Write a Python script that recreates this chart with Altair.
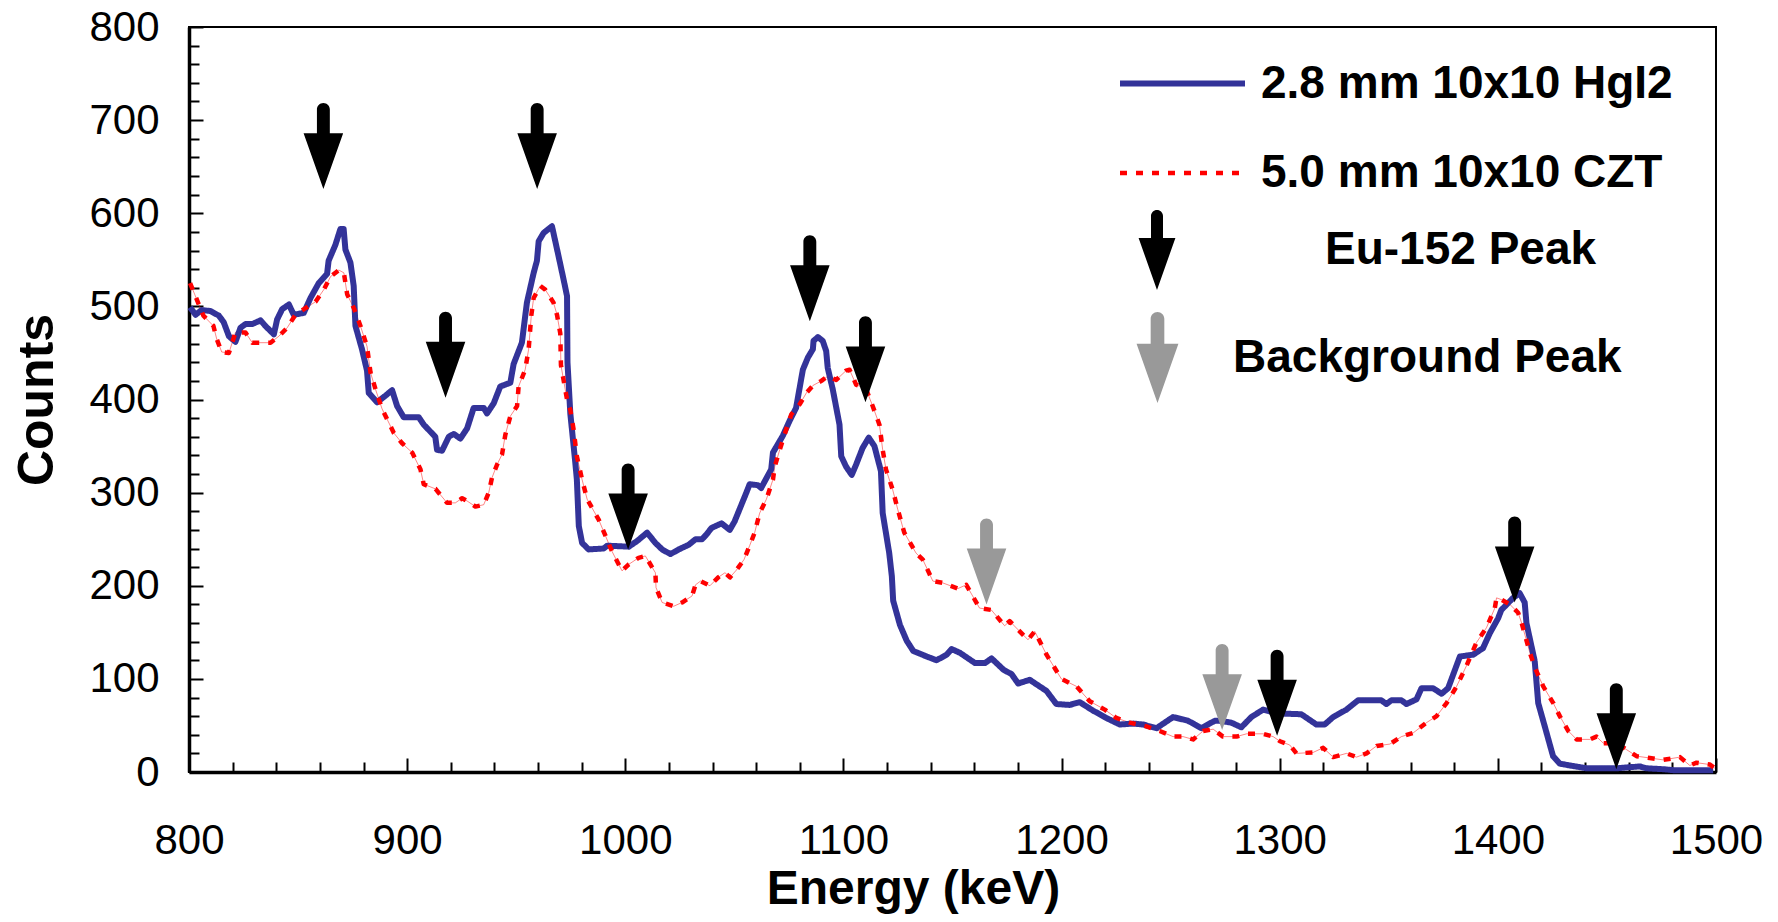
import altair as alt
import pandas as pd

# ---------------- data ----------------
SERIES = ["2.8 mm 10x10 HgI2", "5.0 mm 10x10 CZT"]
PEAKS = ["Eu-152 Peak", "Background Peak"]

HGI2_E = [800.5, 803, 805.8, 809.9, 813.7, 815.9, 818.3, 821.3, 823.6, 825.9, 829, 832.8, 835, 838.9,
          840.4, 842.7, 845.8, 848, 852.6, 855.7, 859.5, 863.3, 864, 867.1, 869.4, 870.9, 871.7, 874,
          875.5, 876.3, 879.3, 881.6, 882.4, 886.2, 890, 893.1, 895.4, 898.4, 905.3, 907.6, 912.9,
          913.7, 916, 919.1, 921.4, 924.4, 927.5, 930.5, 935.1, 936.6, 939.7, 942.7, 947.3, 948.8,
          952.6, 954.9, 958, 959.5, 960.3, 962.6, 966.4, 969.4, 971.7, 973.3, 973.5, 974.8, 977.1,
          977.8, 978.7, 980.2, 983.2, 990.1, 991.7, 1001.6, 1005.4, 1010, 1013.8, 1016.9, 1020.7,
          1024.5, 1029.1, 1032.2, 1035.2, 1037.2, 1039.5, 1044.1, 1047.9, 1050.1, 1055.5, 1057,
          1060.8, 1062.3, 1066.9, 1067.7, 1072.2, 1075.3, 1078.3, 1081.4, 1083.7, 1086, 1086.3,
          1088.3, 1090.5, 1092.1, 1092.8, 1095.1, 1098.2, 1099, 1101.2, 1103.8, 1105.8, 1108.8,
          1111.6, 1114.2, 1117.2, 1118, 1121, 1122.2, 1122.8, 1125.9, 1129, 1132, 1138.2, 1142.7,
          1147.3, 1149.6, 1153.4, 1160.3, 1164.9, 1167.9, 1173.3, 1177.1, 1180.1, 1185.4, 1193.1,
          1197.6, 1203.7, 1208.3, 1214.4, 1220.5, 1226.7, 1232.8, 1237.4, 1243.5, 1251.1, 1258,
          1264.1, 1270.2, 1272.5, 1277.8, 1282.4, 1287, 1292.4, 1298.5, 1309.9, 1316.8, 1320.6,
          1324.5, 1330.6, 1335.9, 1346.6, 1348.9, 1351.2, 1355.8, 1358.1, 1362.7, 1365, 1370.3,
          1374.2, 1377.2, 1382.6, 1388.7, 1393.2, 1396.3, 1400.1, 1401.6, 1407, 1410, 1412.3,
          1413.1, 1416.9, 1418.5, 1421.5, 1425.3, 1428.4, 1433, 1440.6, 1454.4, 1465.1, 1468.1,
          1475.8, 1480.4, 1498.7]
HGI2_C = [499, 491, 496, 495, 490, 483, 468, 462, 477, 481, 481, 485, 479, 470,
          486, 497, 502, 491, 493, 509, 525, 535, 549, 566, 583, 583, 561, 547,
          522, 479, 454, 431, 407, 397, 404, 410, 393, 381, 381, 373, 360,
          346, 345, 360, 363, 358, 369, 391, 391, 385, 396, 414, 418, 438,
          461, 504, 536, 549, 570, 579, 586, 554, 529, 511, 440, 385, 332,
          314, 264, 246, 239, 240, 243, 242, 248, 257, 246, 239, 234,
          239, 244, 250, 250, 255, 262, 267, 260, 269, 300, 309,
          308, 305, 325, 343, 361, 377, 391, 432, 445, 454, 463,
          467, 463, 452, 434, 411, 373, 339, 328, 319, 330, 348,
          359, 350, 323, 278, 235, 210, 184, 158, 141, 130, 124, 120,
          126, 132, 128, 117, 117, 122, 110, 105, 95, 99, 87,
          73, 72, 75, 66, 58, 51, 52, 51, 47, 59, 55,
          47, 55, 55, 53, 48, 59, 67, 63, 62, 51, 51,
          59, 67, 77, 77, 73, 77, 77, 73, 78, 90, 90,
          84, 90, 124, 126, 133, 149, 165, 174, 187, 192, 182,
          160, 119, 74, 49, 17, 9, 7, 4, 4, 6, 4,
          3, 2, 2]

CZT_E = [800.5, 806.6, 811.2, 812.7, 815, 818.3, 821.3, 825.9, 829, 837.4, 841.2, 845, 848.8, 853.4,
         858, 861.8, 864.9, 868.7, 871, 872.5, 875.6, 878.6, 881.6, 883.2, 885.5, 888.5, 893.9,
         897.7, 902.3, 906.1, 907.6, 913, 918.3, 922.1, 925.2, 927.5, 931.3, 935.1, 937.4, 938.9,
         941.2, 943.5, 945, 947.3, 950.4, 951.1, 954.1, 955.7, 956.9, 958, 961, 963.3, 967.1,
         968.7, 970.2, 970.5, 971.7, 973.3, 974.8, 976.3, 977.8, 980.2, 982.5, 987.8, 993.9,
         998.5, 1001.6, 1006.1, 1009.2, 1013.8, 1014.1, 1016.9, 1022.2, 1026, 1030.6, 1032.2,
         1034.5, 1038.8, 1042.6, 1045.7, 1048, 1051, 1054.4, 1057, 1059.3, 1061.6, 1064.7,
         1067.7, 1068.5, 1070.8, 1073.8, 1076.1, 1080, 1083, 1086, 1089.9, 1092.8, 1096.7,
         1101.2, 1102.8, 1105.8, 1110.4, 1113.4, 1116.5, 1118, 1119.5, 1122.6, 1124.9, 1127.9,
         1133.3, 1136.4, 1141, 1145.6, 1152.5, 1156.3, 1162.4, 1167.8, 1173.9, 1176.2, 1184.6,
         1187.7, 1193.1, 1199.9, 1206.8, 1212.9, 1219.8, 1225.1, 1231.3, 1238.9, 1245, 1251.1,
         1255.7, 1260.3, 1264.9, 1269.5, 1274, 1280.2, 1284.8, 1292.4, 1297, 1300.1, 1304.6,
         1307.7, 1315.3, 1319.9, 1324.5, 1330.6, 1335.2, 1339.8, 1344.4, 1350.5, 1355.8, 1361.2,
         1367.3, 1371.9, 1376.5, 1381.1, 1385.6, 1390.2, 1394.8, 1398.6, 1399.4, 1401.7, 1405.5,
         1409.3, 1410.9, 1414.7, 1417, 1420.8, 1425.4, 1428.4, 1432.3, 1436.1, 1442.2, 1445.2,
         1448.3, 1454.4, 1459, 1463.6, 1469.7, 1475.8, 1483.5, 1488, 1491.1, 1497.2, 1499.5]
CZT_C = [525, 490, 479, 465, 451, 450, 472, 472, 461, 461, 468, 477, 491, 498,
         505, 518, 532, 539, 536, 513, 498, 479, 457, 429, 411, 390, 364,
         353, 343, 325, 309, 304, 289, 289, 294, 291, 285, 287, 300, 316,
         330, 341, 362, 382, 393, 414, 432, 454, 490, 509, 522, 518, 504,
         491, 471, 437, 421, 400, 389, 368, 339, 314, 293, 271, 237,
         216, 223, 230, 232, 214, 198, 182, 178, 182, 189, 201,
         205, 200, 209, 214, 209, 217, 228, 243, 257, 278, 293,
         314, 328, 346, 368, 384, 395, 407, 415, 420, 425, 421,
         431, 432, 416, 411, 393, 373, 346, 325, 303, 282, 257,
         235, 228, 205, 203, 197, 201, 176, 174, 157, 162, 142,
         151, 126, 100, 92, 76, 67, 58, 53, 49, 44, 38,
         38, 35, 44, 46, 38, 38, 41, 41, 38, 33, 29,
         20, 21, 26, 16, 20, 16, 20, 28, 30, 38, 42,
         53, 60, 74, 92, 114, 139, 155, 176, 187, 185, 180,
         171, 160, 128, 112, 92, 74, 60, 44, 35, 35, 38,
         31, 31, 24, 17, 15, 13, 16, 7, 10, 8, 4]

EU_E = [861.6, 917.6, 959.6, 1001.3, 1084.6, 1110.1, 1298.8, 1407.7, 1454.3]
EU_C = [626, 402, 626, 239, 484, 397, 39, 182, 3]
BG_E = [1165.6, 1273.6]
BG_C = [180, 45]

X_LABELS = [800, 900, 1000, 1100, 1200, 1300, 1400, 1500]
Y_LABELS = [0, 100, 200, 300, 400, 500, 600, 700, 800]
X_TICKS = list(range(800, 1501, 20))
Y_TICKS = list(range(0, 801, 20))

# ---------------- tables ----------------
rows = []
for i, (e, c) in enumerate(zip(HGI2_E, HGI2_C)):
    rows.append({"energy": e, "counts": c, "series": SERIES[0], "idx": i})
for i, (e, c) in enumerate(zip(CZT_E, CZT_C)):
    rows.append({"energy": e, "counts": c, "series": SERIES[1], "idx": i})
lines_df = pd.DataFrame(rows)
czt_df = lines_df[lines_df["series"] == SERIES[1]]

eu_df = pd.DataFrame({"energy": EU_E, "counts": EU_C, "kind": PEAKS[0]})
bg_df = pd.DataFrame({"energy": BG_E, "counts": BG_C, "kind": PEAKS[1]})

# ---------------- styling ----------------
FONT = "Liberation Sans"
W, H = 1527, 745
BLUE = "#333399"
RED = "#ff0000"
GRAY = "#999999"
ARROW = ("M-0.15,-0.85 A0.15,0.15 0 0 1 0.15,-0.85 L0.15,-0.3 L0.46,-0.3 "
         "L0,1 L-0.46,-0.3 L-0.15,-0.3 Z")

x_scale = alt.Scale(domain=[800, 1500], nice=False, zero=False)
y_scale = alt.Scale(domain=[0, 800], nice=False, zero=False)

x_label_axis = alt.Axis(
    values=X_LABELS, ticks=False, grid=False, domain=True, domainColor="black",
    domainWidth=3.5, labelFont=FONT, labelFontSize=42, labelColor="black",
    labelBaseline="alphabetic", labelPadding=81, labelFlush=False, format="d",
    title="Energy (keV)", titleFont=FONT, titleFontSize=48, titleFontWeight="bold",
    titleColor="black", titleBaseline="alphabetic", titleX=724, titleY=131,
)
y_label_axis = alt.Axis(
    values=Y_LABELS, ticks=False, grid=False, domain=True, domainColor="black",
    domainWidth=3.5, labelFont=FONT, labelFontSize=42, labelColor="black",
    labelPadding=30, labelFlush=False, format="d",
    title="Counts", titleFont=FONT, titleFontSize=50, titleFontWeight="bold",
    titleColor="black", titleBaseline="alphabetic", titleX=-137, titleY=H / 2,
)
tick_size = {"condition": {"test": "datum.value % 100 === 0", "value": 14}, "value": 10}
x_tick_axis = alt.Axis(
    orient="top", offset=-H, values=X_TICKS, labels=False, domain=False, grid=False,
    ticks=True, tickSize=tick_size, tickColor="black", tickWidth=2, title=None,
)
y_tick_axis = alt.Axis(
    orient="right", offset=-W, values=Y_TICKS, labels=False, domain=False, grid=False,
    ticks=True, tickSize=tick_size, tickColor="black", tickWidth=2, title=None,
)

line_legend = alt.Legend(
    orient="none", legendX=928, legendY=-9, title=None, symbolType="stroke",
    symbolSize=15625, symbolStrokeWidth=5, labelFont=FONT, labelFontSize=46,
    labelFontWeight="bold", labelColor="black", labelOffset=13, rowPadding=1,
    padding=0, labelLimit=1000,
)
eu_legend = alt.Legend(
    orient="none", legendX=928, legendY=183, title=None, symbolSize=6400,
    symbolFillColor="black", symbolStrokeWidth=0, labelFont=FONT, labelFontSize=46,
    labelFontWeight="bold", labelColor="black", labelOffset=128, padding=0,
    labelLimit=1000,
)
bg_legend = alt.Legend(
    orient="none", legendX=923, legendY=285, title=None, symbolType=ARROW,
    symbolSize=8281, symbolStrokeWidth=0, labelFont=FONT, labelFontSize=46,
    labelFontWeight="bold", labelColor="black", labelOffset=30, padding=0,
    labelLimit=1000,
)

# ---------------- layers ----------------
hair = alt.Chart(czt_df).mark_line(color=RED, strokeWidth=0.8, opacity=0.6).encode(
    x=alt.X("energy:Q", scale=x_scale, axis=x_label_axis),
    y=alt.Y("counts:Q", scale=y_scale, axis=y_label_axis),
    order=alt.Order("idx:Q"),
)

lines = alt.Chart(lines_df).mark_line(strokeJoin="round", strokeCap="butt").encode(
    x=alt.X("energy:Q", scale=x_scale, axis=x_label_axis),
    y=alt.Y("counts:Q", scale=y_scale, axis=y_label_axis),
    color=alt.Color("series:N", scale=alt.Scale(domain=SERIES, range=[BLUE, RED]),
                    legend=line_legend),
    strokeDash=alt.StrokeDash("series:N",
                              scale=alt.Scale(domain=SERIES, range=[[1, 0], [7, 9]]),
                              legend=line_legend),
    strokeWidth=alt.StrokeWidth("series:N",
                                scale=alt.Scale(domain=SERIES, range=[6, 4.5]),
                                legend=None),
    order=alt.Order("idx:Q"),
)

base = alt.layer(hair, lines)

eu_arrows = alt.Chart(eu_df).mark_point(
    filled=True, size=7396, opacity=1, strokeWidth=0, yOffset=-43, color="black"
).encode(
    x=alt.X("energy:Q", scale=x_scale, axis=x_tick_axis),
    y=alt.Y("counts:Q", scale=y_scale, axis=y_tick_axis),
    shape=alt.Shape("kind:N", scale=alt.Scale(domain=[PEAKS[0]], range=[ARROW]),
                    legend=eu_legend),
)

bg_arrows = alt.Chart(bg_df).mark_point(
    filled=True, size=7396, opacity=1, strokeWidth=0, yOffset=-43, shape=ARROW
).encode(
    x=alt.X("energy:Q", scale=x_scale, axis=x_tick_axis),
    y=alt.Y("counts:Q", scale=y_scale, axis=y_tick_axis),
    fill=alt.Fill("kind:N", scale=alt.Scale(domain=[PEAKS[1]], range=[GRAY]),
                  legend=bg_legend),
)

arrows = alt.layer(eu_arrows, bg_arrows)

chart = alt.layer(base, arrows).resolve_scale(
    x="independent", y="independent"
).properties(
    width=W, height=H,
    padding={"left": 181, "top": 19, "right": 50, "bottom": 142},
    autosize=alt.AutoSizeParams(type="none"),
    background="white",
).configure_view(stroke="black", strokeWidth=2)

chart.save("out.html", embed_options={"renderer": "svg", "actions": False})
